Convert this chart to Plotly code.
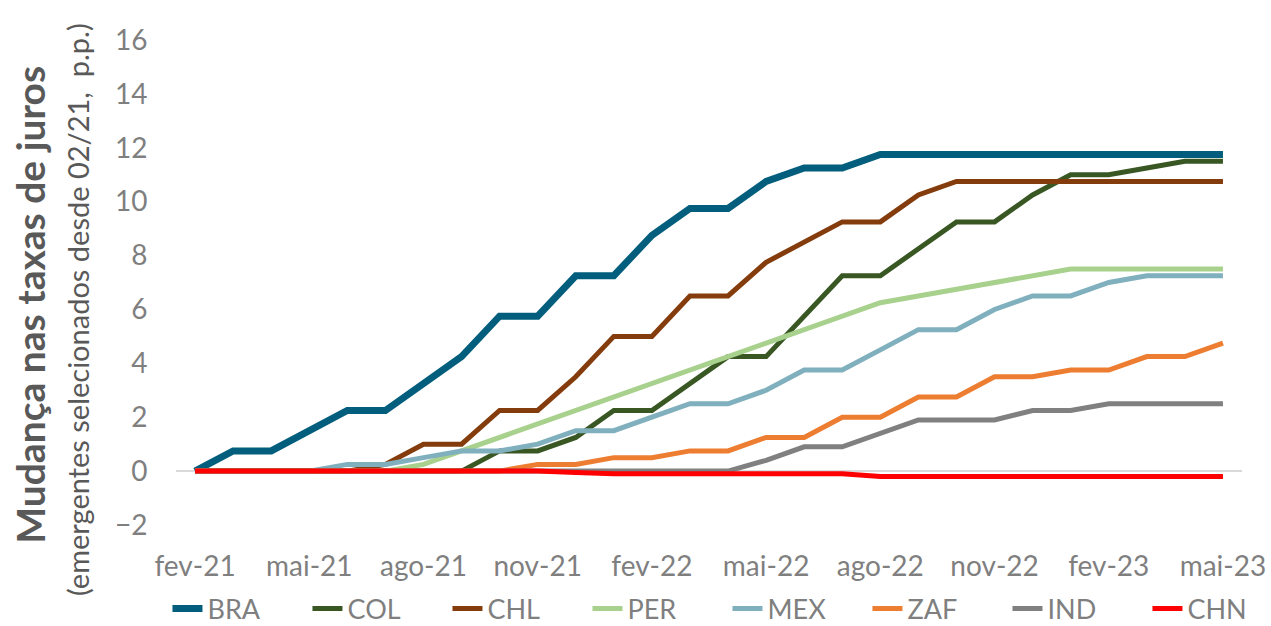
import plotly.graph_objects as go

# meses (fev-21 a mai-23), variação acumulada desde 02/21 em p.p.
months = ["fev-21", "mar-21", "abr-21", "mai-21", "jun-21", "jul-21", "ago-21", "set-21",
          "out-21", "nov-21", "dez-21", "jan-22", "fev-22", "mar-22", "abr-22", "mai-22",
          "jun-22", "jul-22", "ago-22", "set-22", "out-22", "nov-22", "dez-22", "jan-23",
          "fev-23", "mar-23", "abr-23", "mai-23"]
tick_months = ["fev-21", "mai-21", "ago-21", "nov-21", "fev-22",
               "mai-22", "ago-22", "nov-22", "fev-23", "mai-23"]

bra = [0, 0.75, 0.75, 1.5, 2.25, 2.25, 3.25, 4.25, 5.75, 5.75, 7.25, 7.25, 8.75, 9.75,
       9.75, 10.75, 11.25, 11.25, 11.75, 11.75, 11.75, 11.75, 11.75, 11.75, 11.75, 11.75,
       11.75, 11.75]
col = [0, 0, 0, 0, 0, 0, 0, 0, 0.75, 0.75, 1.25, 2.25, 2.25, 3.25, 4.25, 4.25, 5.75,
       7.25, 7.25, 8.25, 9.25, 9.25, 10.25, 11.0, 11.0, 11.25, 11.5, 11.5]
chl = [0, 0, 0, 0, 0, 0.25, 1.0, 1.0, 2.25, 2.25, 3.5, 5.0, 5.0, 6.5, 6.5, 7.75, 8.5,
       9.25, 9.25, 10.25, 10.75, 10.75, 10.75, 10.75, 10.75, 10.75, 10.75, 10.75]
per = [0, 0, 0, 0, 0, 0, 0.25, 0.75, 1.25, 1.75, 2.25, 2.75, 3.25, 3.75, 4.25, 4.75,
       5.25, 5.75, 6.25, 6.5, 6.75, 7.0, 7.25, 7.5, 7.5, 7.5, 7.5, 7.5]
mex = [0, 0, 0, 0, 0.25, 0.25, 0.5, 0.75, 0.75, 1.0, 1.5, 1.5, 2.0, 2.5, 2.5, 3.0, 3.75,
       3.75, 4.5, 5.25, 5.25, 6.0, 6.5, 6.5, 7.0, 7.25, 7.25, 7.25]
zaf = [0, 0, 0, 0, 0, 0, 0, 0, 0, 0.25, 0.25, 0.5, 0.5, 0.75, 0.75, 1.25, 1.25, 2.0, 2.0,
       2.75, 2.75, 3.5, 3.5, 3.75, 3.75, 4.25, 4.25, 4.75]
ind = [0, 0, 0, 0, 0, 0, 0, 0, 0, 0, 0, 0, 0, 0, 0, 0.4, 0.9, 0.9, 1.4, 1.9, 1.9, 1.9,
       2.25, 2.25, 2.5, 2.5, 2.5, 2.5]
chn = [0, 0, 0, 0, 0, 0, 0, 0, 0, 0, -0.05, -0.1, -0.1, -0.1, -0.1, -0.1, -0.1, -0.1,
       -0.2, -0.2, -0.2, -0.2, -0.2, -0.2, -0.2, -0.2, -0.2, -0.2]

SERIES = [
    ('BRA', bra, '#025E7C', 7),
    ('COL', col, '#385723', 5),
    ('CHL', chl, '#843C0C', 5),
    ('PER', per, '#A9D18E', 5),
    ('MEX', mex, '#80B0BE', 5),
    ('ZAF', zaf, '#ED7D31', 5),
    ('IND', ind, '#808080', 5),
    ('CHN', chn, '#FF0000', 5),
]

FONT = 'Lato'
GRAY = '#7F7F7F'

fig = go.Figure()
for name, values, color, width in SERIES:
    fig.add_trace(go.Scatter(x=months, y=values, name=name, mode='lines',
                             line={'color': color, 'width': width}))

fig.update_layout(
    width=1271, height=626,
    margin={'l': 176, 'r': 29, 't': 40, 'b': 101, 'autoexpand': False},
    plot_bgcolor='white', paper_bgcolor='white',
    font={'family': FONT, 'color': GRAY, 'size': 28},
    showlegend=True,
    legend={'orientation': 'h', 'x': -0.008, 'xanchor': 'left',
            'y': -0.173, 'yanchor': 'middle',
            'font': {'size': 27, 'color': GRAY},
            'entrywidth': 95, 'itemwidth': 30, 'tracegroupgap': 0},
    xaxis={'type': 'category', 'range': [-0.5, 27.5], 'automargin': False,
           'tickvals': tick_months, 'ticktext': tick_months,
           'showgrid': False, 'showline': False, 'zeroline': False,
           'ticks': 'outside', 'ticklen': 16, 'tickcolor': 'rgba(0,0,0,0)',
           'tickfont': {'size': 28, 'color': GRAY}},
    yaxis={'range': [-2, 16], 'dtick': 2, 'showgrid': False, 'showline': False,
           'automargin': False,
           'zeroline': True, 'zerolinecolor': '#D9D9D9', 'zerolinewidth': 1.5,
           'ticks': 'outside', 'ticklen': 22, 'tickcolor': 'rgba(0,0,0,0)',
           'tickfont': {'size': 28, 'color': GRAY}},
    annotations=[
        {'text': '<b>Mudança nas taxas de juros</b>', 'textangle': -90,
         'xref': 'paper', 'yref': 'paper', 'x': -0.137, 'y': 0.454,
         'xanchor': 'center', 'yanchor': 'middle', 'showarrow': False,
         'font': {'size': 39, 'color': '#595959', 'family': FONT}},
        {'text': '(emergentes selecionados desde 02/21,  p.p.)', 'textangle': -90,
         'xref': 'paper', 'yref': 'paper', 'x': -0.093, 'y': 0.445,
         'xanchor': 'center', 'yanchor': 'middle', 'showarrow': False,
         'font': {'size': 29, 'color': '#595959', 'family': FONT}},
    ],
)

# the page's default body margin would shift the chart by 8px
fig.write_html("out.html", config={'displayModeBar': False},
               post_script="document.body.style.margin='0px';")
